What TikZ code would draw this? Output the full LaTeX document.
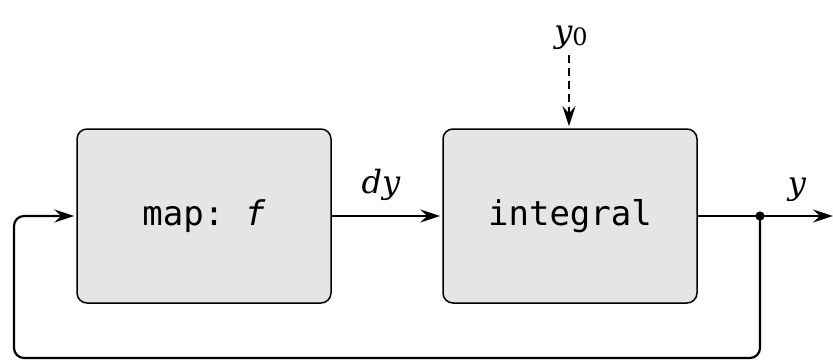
\documentclass[tikz,border=0pt]{standalone}
\usepackage{fontspec}
\setmonofont{DejaVu Sans Mono}
\newfontfamily\lblfont{DejaVu Serif}
\usetikzlibrary{arrows.meta}
\tikzset{
  blockbox/.style={draw=black, line width=1.5pt, fill=black!10, rounded corners=10pt,
    minimum width=254pt, minimum height=174pt, inner sep=0pt,
    font=\fontsize{34}{40}\selectfont\ttfamily},
  flow/.style={line width=2.2pt, shorten >=2pt, -{Stealth[length=20pt,width=13pt,inset=7pt]}},
  lbl/.style={font=\fontsize{32}{38}\selectfont\lblfont\itshape, inner sep=0pt}
}
\begin{document}
\begin{tikzpicture}[x=1pt,y=-1pt]
\useasboundingbox (0,0) rectangle (833,362);
\node[blockbox] (map) at (204,216) {map: \textit{f}};
\node[blockbox] (int) at (570,216) {integral};
\coordinate (dot) at (760,216);
\coordinate (out) at (835,216);
\coordinate (y0top) at (569,55);
\node[lbl] (dylbl) at (381,185) {dy};
\node[lbl] (ylbl) at (797,190) {y};
\node[lbl, anchor=base] (y0lbl) at (571,42) {y\raisebox{-3pt}{\upshape\fontsize{24}{28}\selectfont 0}};
\draw[flow] (map.east) -- (int.west);
\draw[flow] (int.east) -- (out);
\draw[flow, dashed, dash pattern=on 8pt off 5pt] (y0top) -- (int.north -| y0top);
\draw[flow, rounded corners=10pt] (dot) -- (760,358) -- (14,358) -- (14,216) -- (map.west);
\fill (dot) circle (4.6pt);
\end{tikzpicture}
\end{document}
